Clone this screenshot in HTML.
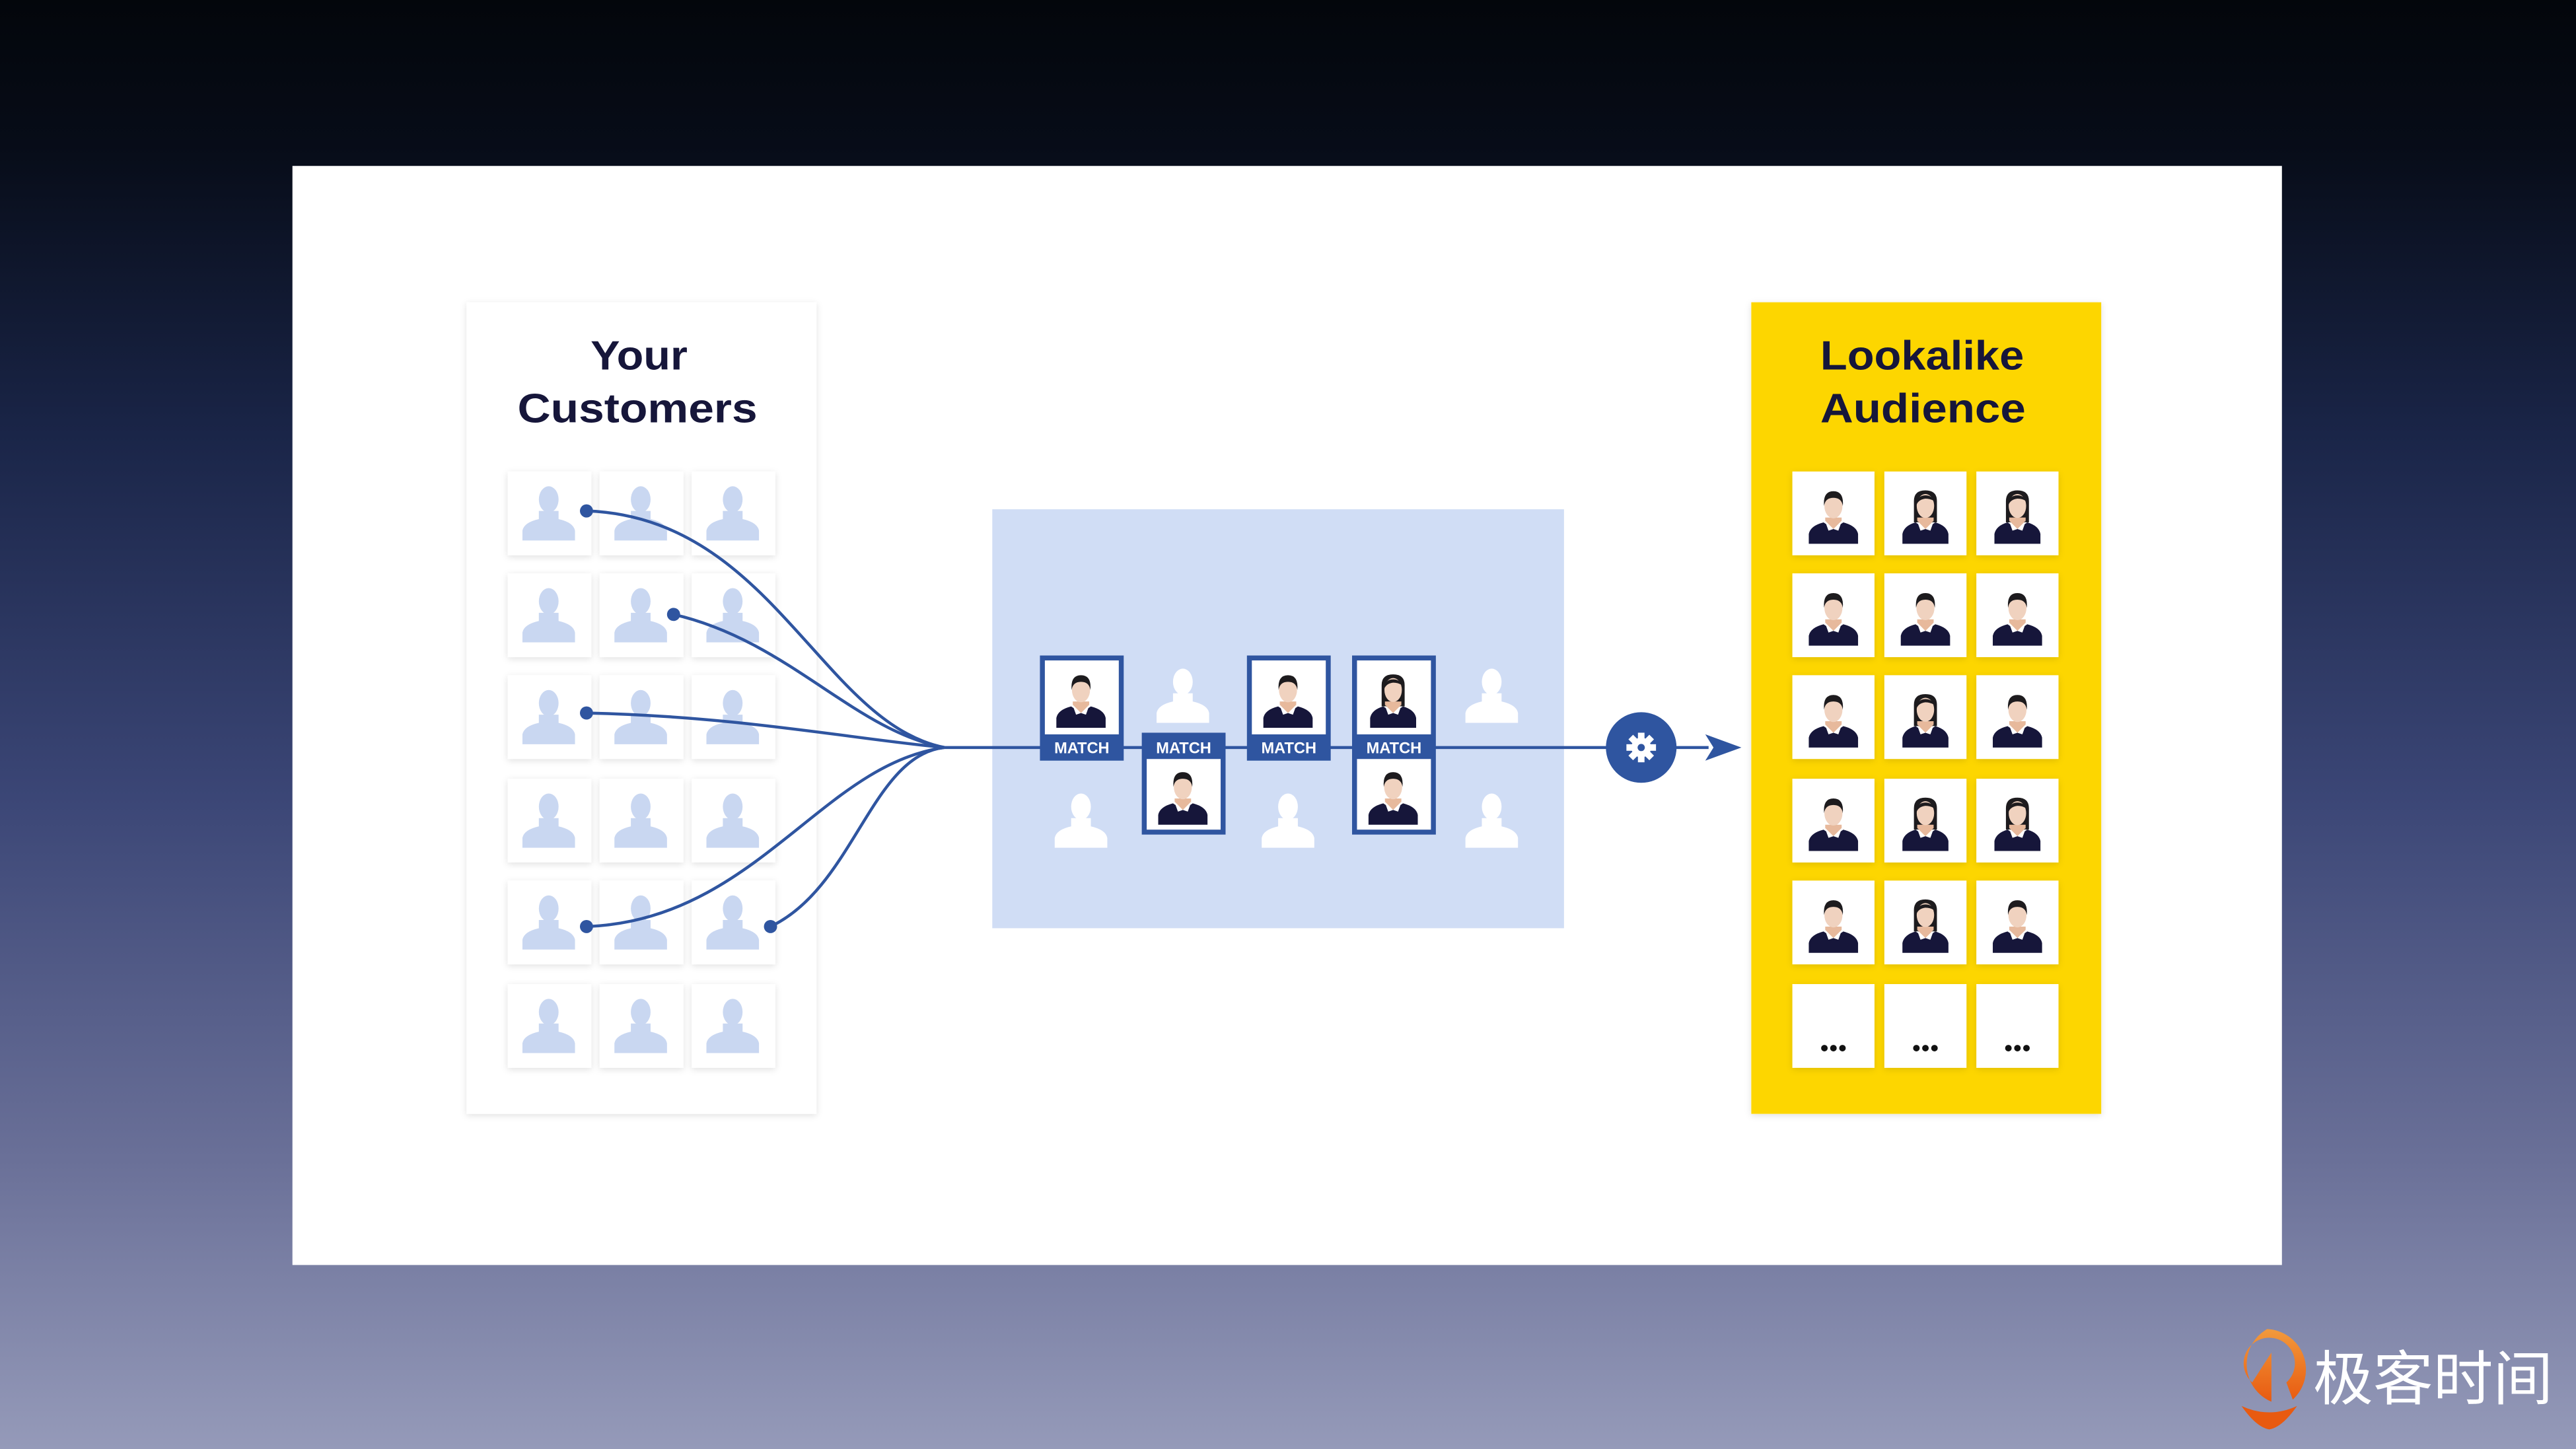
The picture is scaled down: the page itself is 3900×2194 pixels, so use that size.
<!DOCTYPE html>
<html><head><meta charset="utf-8"><style>
html,body{margin:0;padding:0;width:3900px;height:2194px;overflow:hidden;background:#000}
svg{display:block}
</style></head><body>
<svg width="3900" height="2194" viewBox="0 0 1568 882" preserveAspectRatio="none" xmlns="http://www.w3.org/2000/svg">
<defs>
<linearGradient id="bg" x1="0" y1="0" x2="0" y2="1">
<stop offset="0" stop-color="#03060b"/>
<stop offset="0.1" stop-color="#070c18"/>
<stop offset="0.3" stop-color="#1a2548"/>
<stop offset="0.55" stop-color="#3b4676"/>
<stop offset="0.8" stop-color="#6a7098"/>
<stop offset="1" stop-color="#959ab9"/>
</linearGradient>
<filter id="sh" x="-20%" y="-20%" width="140%" height="140%"><feDropShadow dx="0" dy="1" stdDeviation="2" flood-color="#000" flood-opacity="0.12"/></filter>
<g id="sil">
<ellipse cx="25" cy="17" rx="6" ry="8"/>
<path d="M19,24 L19,29 Q10,31 9,36 L9,42 L41,42 L41,36 Q40,31 31,29 L31,24 Z"/>
</g>
<g id="man">
<path d="M10,42 L10,36 Q11,31 19,29 L25,33 L31,29 Q39,31 40,36 L40,42 Z" fill="#16163a"/>
<path d="M20,28 L25,33 L30,28 L30,26 L20,26 Z" fill="#e7b99c"/>
<path d="M20,28.5 L25,33 L22,34 Z M30,28.5 L25,33 L28,34 Z" fill="#fff"/>
<ellipse cx="25" cy="19" rx="5.5" ry="7.5" fill="#f0d2bf"/>
<path d="M19.3,19 Q18.5,10 25,10 Q31.5,10 30.7,19 Q30,14 25,14 Q20,14 19.3,19 Z" fill="#1d1b1e"/>
</g>
<g id="woman">
<path d="M18,29 L18,16 Q18,9.5 25,9.5 Q32,9.5 32,16 L32,29 Z" fill="#1d1b1e"/>
<path d="M11,42 L11,36 Q12,31 19,29 L25,33 L31,29 Q38,31 39,36 L39,42 Z" fill="#16163a"/>
<path d="M20,28 L25,33 L30,28 L30,26 L20,26 Z" fill="#e7b99c"/>
<path d="M20,28.5 L25,33 L22,34 Z M30,28.5 L25,33 L28,34 Z" fill="#fff"/>
<ellipse cx="25" cy="19" rx="5.3" ry="7.3" fill="#f0d2bf"/>
<path d="M19.7,18 Q20,12.5 25,12.5 Q29,12.5 30.3,16 Q28,14.5 25,14.5 Q21,15 19.7,18 Z" fill="#1d1b1e"/>
</g>
</defs>
<rect width="1568" height="882" fill="url(#bg)"/>
<rect x="178" y="101" width="1211" height="669" fill="#fff"/>

<!-- left card -->
<rect x="284" y="184" width="213" height="494" fill="#fff" filter="url(#sh)"/>
<g font-family="Liberation Sans, sans-serif" font-weight="bold" font-size="25" fill="#16163a" text-anchor="middle" lengthAdjust="spacingAndGlyphs">
<text x="389" y="225" textLength="59" lengthAdjust="spacingAndGlyphs">Your</text>
<text x="388" y="257" textLength="146" lengthAdjust="spacingAndGlyphs">Customers</text>
</g>
<g fill="#fff" filter="url(#sh)">
<rect x="309" y="287" width="51" height="51"/><rect x="365" y="287" width="51" height="51"/><rect x="421" y="287" width="51" height="51"/>
<rect x="309" y="349" width="51" height="51"/><rect x="365" y="349" width="51" height="51"/><rect x="421" y="349" width="51" height="51"/>
<rect x="309" y="411" width="51" height="51"/><rect x="365" y="411" width="51" height="51"/><rect x="421" y="411" width="51" height="51"/>
<rect x="309" y="474" width="51" height="51"/><rect x="365" y="474" width="51" height="51"/><rect x="421" y="474" width="51" height="51"/>
<rect x="309" y="536" width="51" height="51"/><rect x="365" y="536" width="51" height="51"/><rect x="421" y="536" width="51" height="51"/>
<rect x="309" y="599" width="51" height="51"/><rect x="365" y="599" width="51" height="51"/><rect x="421" y="599" width="51" height="51"/>
</g>
<g fill="#c9d7f1">
<use href="#sil" x="309" y="287"/><use href="#sil" x="365" y="287"/><use href="#sil" x="421" y="287"/>
<use href="#sil" x="309" y="349"/><use href="#sil" x="365" y="349"/><use href="#sil" x="421" y="349"/>
<use href="#sil" x="309" y="411"/><use href="#sil" x="365" y="411"/><use href="#sil" x="421" y="411"/>
<use href="#sil" x="309" y="474"/><use href="#sil" x="365" y="474"/><use href="#sil" x="421" y="474"/>
<use href="#sil" x="309" y="536"/><use href="#sil" x="365" y="536"/><use href="#sil" x="421" y="536"/>
<use href="#sil" x="309" y="599"/><use href="#sil" x="365" y="599"/><use href="#sil" x="421" y="599"/>
</g>

<!-- middle panel -->
<rect x="604" y="310" width="348" height="255" fill="#d0ddf5"/>
<g fill="#fff">
<use href="#sil" x="695" y="398"/><use href="#sil" x="883" y="398"/>
<use href="#sil" x="633" y="474"/><use href="#sil" x="759" y="474"/><use href="#sil" x="883" y="474"/>
</g>

<!-- curves -->
<g fill="none" stroke="#2f55a0" stroke-width="1.8">
<path d="M357,311 C470,315 500,440 575,455"/>
<path d="M410,374 C480,390 520,445 575,455"/>
<path d="M357,434 C450,436 520,450 575,455"/>
<path d="M357,564 C460,560 500,465 575,455"/>
<path d="M469,564 C520,540 530,460 575,455"/>
<path d="M575,455 L1040,455"/>
</g>
<g fill="#2f55a0">
<circle cx="357" cy="311" r="4"/><circle cx="410" cy="374" r="4"/><circle cx="357" cy="434" r="4"/><circle cx="357" cy="564" r="4"/><circle cx="469" cy="564" r="4"/>
<path d="M1038,447 L1060,455 L1038,463 L1043,455 Z"/>
<circle cx="999" cy="455" r="21.5"/>
</g>
<g transform="translate(999,455)" fill="#fff">
<circle r="6"/>
<rect x="-2" y="-9" width="4" height="18"/><rect x="-9" y="-2" width="18" height="4"/>
<rect x="-2" y="-9" width="4" height="18" transform="rotate(45)"/><rect x="-2" y="-9" width="4" height="18" transform="rotate(-45)"/>
<circle r="2.2" fill="#2f55a0"/>
</g>

<!-- match boxes -->
<g fill="#2f55a0">
<rect x="633" y="399" width="51" height="64"/>
<rect x="695" y="446" width="51" height="62"/>
<rect x="759" y="399" width="51" height="64"/>
<rect x="823" y="399" width="51" height="109"/>
</g>
<g fill="#fff">
<rect x="636" y="402" width="45" height="45"/>
<rect x="698" y="462" width="45" height="43"/>
<rect x="762" y="402" width="45" height="45"/>
<rect x="826" y="402" width="45" height="45"/>
<rect x="826" y="462" width="45" height="43"/>
</g>
<use href="#man" x="633" y="401"/>
<use href="#man" x="695" y="460"/>
<use href="#man" x="759" y="401"/>
<use href="#woman" x="823" y="401"/>
<use href="#man" x="823" y="460"/>
<g font-family="Liberation Sans, sans-serif" font-weight="bold" font-size="9.5" fill="#fff" text-anchor="middle">
<text x="658.5" y="458.5">MATCH</text>
<text x="720.5" y="458.5">MATCH</text>
<text x="784.5" y="458.5">MATCH</text>
<text x="848.5" y="458.5">MATCH</text>
</g>

<!-- yellow card -->
<rect x="1066" y="184" width="213" height="494" fill="#fdd600" filter="url(#sh)"/>
<g font-family="Liberation Sans, sans-serif" font-weight="bold" font-size="25" fill="#16163a" text-anchor="middle">
<text x="1170" y="225" textLength="124" lengthAdjust="spacingAndGlyphs">Lookalike</text>
<text x="1170.5" y="257" textLength="125" lengthAdjust="spacingAndGlyphs">Audience</text>
</g>
<g fill="#fff" filter="url(#sh)">
<rect x="1091" y="287" width="50" height="51"/><rect x="1147" y="287" width="50" height="51"/><rect x="1203" y="287" width="50" height="51"/>
<rect x="1091" y="349" width="50" height="51"/><rect x="1147" y="349" width="50" height="51"/><rect x="1203" y="349" width="50" height="51"/>
<rect x="1091" y="411" width="50" height="51"/><rect x="1147" y="411" width="50" height="51"/><rect x="1203" y="411" width="50" height="51"/>
<rect x="1091" y="474" width="50" height="51"/><rect x="1147" y="474" width="50" height="51"/><rect x="1203" y="474" width="50" height="51"/>
<rect x="1091" y="536" width="50" height="51"/><rect x="1147" y="536" width="50" height="51"/><rect x="1203" y="536" width="50" height="51"/>
<rect x="1091" y="599" width="50" height="51"/><rect x="1147" y="599" width="50" height="51"/><rect x="1203" y="599" width="50" height="51"/>
</g>
<use href="#man" x="1091" y="289"/><use href="#woman" x="1147" y="289"/><use href="#woman" x="1203" y="289"/>
<use href="#man" x="1091" y="351"/><use href="#man" x="1147" y="351"/><use href="#man" x="1203" y="351"/>
<use href="#man" x="1091" y="413"/><use href="#woman" x="1147" y="413"/><use href="#man" x="1203" y="413"/>
<use href="#man" x="1091" y="476"/><use href="#woman" x="1147" y="476"/><use href="#woman" x="1203" y="476"/>
<use href="#man" x="1091" y="538"/><use href="#woman" x="1147" y="538"/><use href="#man" x="1203" y="538"/>
<g fill="#111">
<circle cx="1110.5" cy="638" r="2"/><circle cx="1116" cy="638" r="2"/><circle cx="1121.5" cy="638" r="2"/>
<circle cx="1166.5" cy="638" r="2"/><circle cx="1172" cy="638" r="2"/><circle cx="1177.5" cy="638" r="2"/>
<circle cx="1222.5" cy="638" r="2"/><circle cx="1228" cy="638" r="2"/><circle cx="1233.5" cy="638" r="2"/>
</g>

<!-- logo -->
<defs><linearGradient id="og" x1="0" y1="0" x2="0" y2="1"><stop offset="0" stop-color="#f29a3c"/><stop offset="1" stop-color="#e85a10"/></linearGradient></defs>
<g transform="translate(1380,835) scale(1.3) translate(-1380,-835)">
<path d="M1380,815 A19,19 0 0 1 1392,848 L1389,840 A12,12 0 1 0 1373,840 L1382,826 L1382,849 A19,19 0 0 1 1380,815 Z" fill="url(#og)"/>
<path d="M1368,851 Q1381,857 1394,851 Q1387,861 1381,862 Q1375,861 1368,851 Z" fill="#e85a10"/>
</g>
<text x="1408" y="852" font-family="Liberation Sans, 'Noto Sans CJK SC', sans-serif" font-size="36" fill="#fff" textLength="146" lengthAdjust="spacingAndGlyphs">极客时间</text>
</svg>
</body></html>
